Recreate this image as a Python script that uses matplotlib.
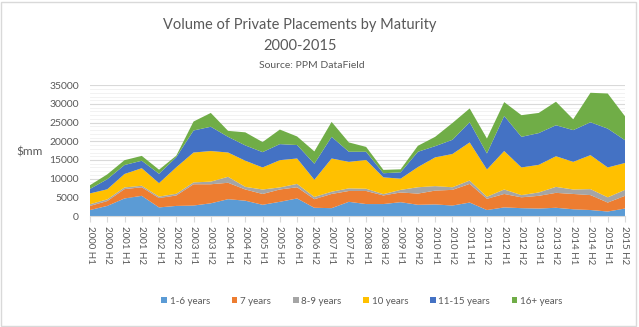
import matplotlib.pyplot as plt
from matplotlib.patches import Patch, Rectangle
from matplotlib.ticker import MultipleLocator

# periodos semestrais 2000 H1 .. 2015 H2
periodos = [f"{ano} H{h}" for ano in range(2000, 2016) for h in (1, 2)]

anos_1_6 = [1600, 2700, 4700, 5400, 2300, 2700, 2800, 3400, 4500, 4100, 3000, 3800,
            4700, 2200, 2100, 3800, 3200, 3200, 3700, 3000, 3100, 2800, 3600, 1600,
            2300, 2100, 2000, 2200, 1800, 1600, 1200, 2000]
anos_7 = [1100, 1300, 2500, 2300, 2500, 2800, 5700, 5100, 4400, 3000, 2900, 3300,
          3000, 2300, 3800, 2900, 3500, 2300, 2600, 3000, 3700, 4200, 5000, 3000,
          3600, 2900, 3400, 4000, 4100, 4000, 2400, 3400]
anos_8_9 = [450, 450, 450, 400, 400, 450, 500, 700, 1600, 700, 1200, 550,
            900, 600, 600, 700, 600, 350, 700, 1700, 1200, 700, 900, 550,
            1200, 600, 900, 1600, 1200, 1600, 1400, 1600]
anos_10 = [2900, 2700, 3600, 4700, 3600, 7100, 8000, 8200, 6500, 7000, 5900, 7300,
           6800, 4600, 8900, 7100, 7700, 4500, 3000, 5400, 7700, 8900, 10200, 7300,
           10300, 7400, 7400, 8200, 7400, 9100, 8000, 7200]
anos_11_15 = [1200, 2700, 2400, 2000, 2500, 2700, 5900, 6500, 4200, 4100, 4100, 4300,
              3600, 4300, 5800, 2700, 2200, 1100, 1700, 4100, 3000, 3800, 5400, 4300,
              9400, 8200, 8500, 8300, 8500, 8800, 10400, 6100]
anos_16 = [1000, 1300, 1300, 1300, 1100, 400, 2400, 3700, 1600, 3500, 2700, 3900,
           2300, 3300, 4000, 2500, 1300, 900, 800, 1600, 2500, 4500, 3700, 4000,
           3700, 5800, 5400, 6300, 2900, 7900, 9400, 6400]

series = [anos_1_6, anos_7, anos_8_9, anos_10, anos_11_15, anos_16]
rotulos = ["1-6 years", "7 years", "8-9 years", "10 years", "11-15 years", "16+ years"]
cores = ["#5B9BD5", "#ED7D31", "#A5A5A5", "#FFC000", "#4472C4", "#70AD47"]

plt.rcParams['font.family'] = ['Lato', 'DejaVu Sans']
texto = "#595959"

fig = plt.figure(figsize=(6.39, 3.27), dpi=100)
fig.patches.append(Rectangle((0.002, 0.003), 0.994, 0.992, transform=fig.transFigure,
                             fill=False, edgecolor="#D9D9D9", linewidth=1))

ax = fig.add_axes([90 / 639, 1 - 216 / 327, 535 / 639, 130.7 / 327])
x = list(range(len(periodos)))
ax.stackplot(x, *series, colors=cores, labels=rotulos, linewidth=0)

ax.set_xlim(0, len(periodos) - 1)
ax.set_ylim(0, 35000)
ax.yaxis.set_major_locator(MultipleLocator(5000))
ax.yaxis.set_minor_locator(MultipleLocator(1000))
ax.grid(axis='y', which='major', color="#D9D9D9", linewidth=0.8)
ax.grid(axis='y', which='minor', color="#F0F0F0", linewidth=0.6)
ax.set_axisbelow(True)

for lado in ["top", "right", "left"]:
    ax.spines[lado].set_visible(False)
ax.spines["bottom"].set_color("#D9D9D9")

ax.set_xticks(x)
ax.set_xticklabels(periodos, rotation=-90, fontsize=7, color=texto)
ax.tick_params(axis='x', length=4, color="#D9D9D9", pad=3)
ax.tick_params(axis='y', which='both', length=0, labelsize=7.5, labelcolor=texto, pad=8)

fig.text(30 / 639, 1 - 152 / 327, "$mm", fontsize=8.5, color=texto, ha="center", va="center")

fig.text(300 / 639, 1 - 25 / 327, "Volume of Private Placements by Maturity",
         fontsize=10.5, color=texto, ha="center", va="center")
fig.text(300 / 639, 1 - 46 / 327, "2000-2015", fontsize=10.5, color=texto, ha="center", va="center")
fig.text(312 / 639, 1 - 66 / 327, "Source: PPM DataField", fontsize=7.5, color=texto,
         ha="center", va="center")

handles = [Patch(facecolor=c, edgecolor="none") for c in cores]
fig.legend(handles, rotulos, loc="center", bbox_to_anchor=(362 / 639, 1 - 301 / 327), ncol=6,
           frameon=False, fontsize=7, handlelength=0.6, handleheight=0.6, handletextpad=0.3,
           columnspacing=2.2, labelcolor=texto)

fig.savefig("out.png", dpi=100)
